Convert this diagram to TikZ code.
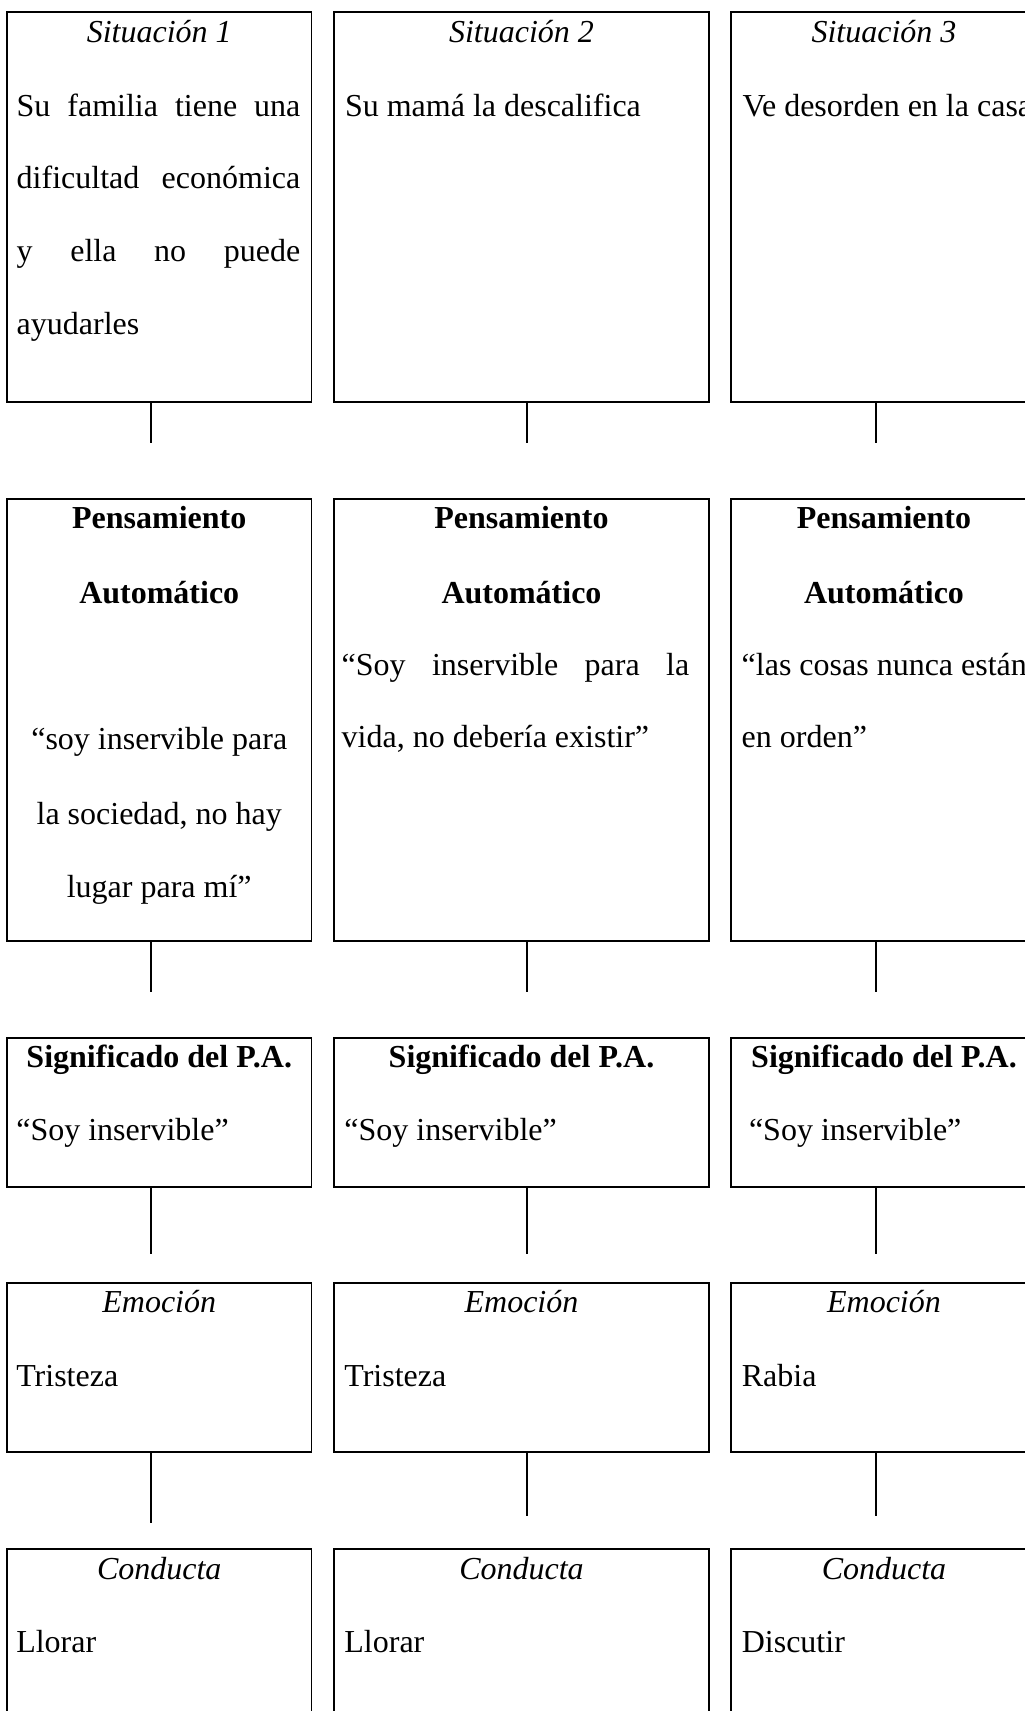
\documentclass[tikz,border=0pt]{standalone}
\usepackage{fontspec}
\setmainfont{Liberation Serif}
\begin{document}
\begin{tikzpicture}[x=0.75pt,y=-0.75pt,
  box/.style={draw, line width=1.4pt, rectangle, inner sep=0pt, outer sep=0pt},
  conn/.style={line width=0.8pt},
  txt/.style={inner sep=0pt, outer sep=0pt, font=\fontsize{24}{28}\selectfont},
  ttl/.style={txt, anchor=base, font=\fontsize{24}{28}\selectfont\itshape},
  hdr/.style={txt, anchor=base, font=\fontsize{24}{28}\selectfont\bfseries},
  lft/.style={txt, anchor=base west}]
\useasboundingbox (0,0) rectangle (1025,1711);
\fill[white] (0,0) rectangle (1025,1711);
\clip (0,0) rectangle (1025,1711);

% ---------- boxes ----------
% row 1 : Situacion
\node[box, minimum width=228.375pt, minimum height=292.05pt] (s1) at (159.25,207) {};
\node[box, minimum width=281.25pt,  minimum height=292.05pt] (s2) at (521.5,207) {};
\node[box, minimum width=229.5pt,   minimum height=292.05pt] (s3) at (884,207) {};
% row 2 : Pensamiento
\node[box, minimum width=228.375pt, minimum height=331.5pt] (p1) at (159.25,720) {};
\node[box, minimum width=281.25pt,  minimum height=331.5pt] (p2) at (521.5,720) {};
\node[box, minimum width=229.5pt,   minimum height=331.5pt] (p3) at (884,720) {};
% row 3 : Significado
\node[box, minimum width=228.375pt, minimum height=111.975pt] (g1) at (159.25,1112.35) {};
\node[box, minimum width=281.25pt,  minimum height=111.975pt] (g2) at (521.5,1112.35) {};
\node[box, minimum width=229.5pt,   minimum height=111.975pt] (g3) at (884,1112.35) {};
% row 4 : Emocion
\node[box, minimum width=228.375pt, minimum height=126.975pt] (e1) at (159.25,1367.35) {};
\node[box, minimum width=281.25pt,  minimum height=126.975pt] (e2) at (521.5,1367.35) {};
\node[box, minimum width=229.5pt,   minimum height=126.975pt] (e3) at (884,1367.35) {};
% row 5 : Conducta
\node[box, minimum width=228.375pt, minimum height=158.25pt] (c1) at (159.25,1654.5) {};
\node[box, minimum width=281.25pt,  minimum height=158.25pt] (c2) at (521.5,1654.5) {};
\node[box, minimum width=229.5pt,   minimum height=158.25pt] (c3) at (884,1654.5) {};

% ---------- connectors ----------
\coordinate (k1a) at (151,443);
\coordinate (k2a) at (527,443);
\coordinate (k3a) at (876,443);
\coordinate (k1b) at (151,991.7);
\coordinate (k2b) at (527,991.7);
\coordinate (k3b) at (876,991.7);
\coordinate (k1c) at (151,1254.3);
\coordinate (k2c) at (527,1254.3);
\coordinate (k3c) at (876,1254.3);
\coordinate (k1d) at (151,1523);
\coordinate (k2d) at (527,1515.7);
\coordinate (k3d) at (876,1515.7);
\draw[conn] (s1.south -| k1a) -- (k1a);
\draw[conn] (s2.south -| k2a) -- (k2a);
\draw[conn] (s3.south -| k3a) -- (k3a);
\draw[conn] (p1.south -| k1b) -- (k1b);
\draw[conn] (p2.south -| k2b) -- (k2b);
\draw[conn] (p3.south -| k3b) -- (k3b);
\draw[conn] (g1.south -| k1c) -- (k1c);
\draw[conn] (g2.south -| k2c) -- (k2c);
\draw[conn] (g3.south -| k3c) -- (k3c);
\draw[conn] (e1.south -| k1d) -- (k1d);
\draw[conn] (e2.south -| k2d) -- (k2d);
\draw[conn] (e3.south -| k3d) -- (k3d);

% ---------- texts row 1 ----------
\node[ttl] (s1t) at (159.25,42) {Situación 1};
\node[ttl] (s2t) at (521.5,42) {Situación 2};
\node[ttl] (s3t) at (884,42) {Situación 3};
\node[lft] (s1a) at (16.7,116) {\makebox[212.7pt][s]{Su familia tiene una}};
\node[lft] (s1b) at (16.7,188.7) {\makebox[212.7pt][s]{dificultad económica}};
\node[lft] (s1c) at (16.7,261.4) {\makebox[212.7pt][s]{y ella no puede}};
\node[lft] (s1d) at (16.7,334) {ayudarles};
\node[lft] (s2a) at (345,116) {Su mamá la descalifica};
\node[lft] (s3a) at (742.5,116) {Ve desorden en la casa};

% ---------- texts row 2 ----------
\node[hdr] (p1h) at (159.25,528.6) {Pensamiento};
\node[hdr] (p1i) at (159.25,603) {Automático};
\node[txt, anchor=base] (p1a) at (159.25,749) {“soy inservible para};
\node[txt, anchor=base] (p1b) at (159.25,824) {la sociedad, no hay};
\node[txt, anchor=base] (p1c) at (159.25,897) {lugar para mí”};
\node[hdr] (p2h) at (521.5,528.6) {Pensamiento};
\node[hdr] (p2i) at (521.5,603) {Automático};
\node[lft] (p2a) at (341.7,675.7) {\makebox[260.7pt][s]{“Soy inservible para la}};
\node[lft] (p2b) at (341.7,747) {vida, no debería existir”};
\node[hdr] (p3h) at (884,528.6) {Pensamiento};
\node[hdr] (p3i) at (884,603) {Automático};
\node[lft] (p3a) at (741.7,675.7) {“las cosas nunca están};
\node[lft] (p3b) at (741.7,747) {en orden”};

% ---------- texts row 3 ----------
\node[hdr] (g1h) at (159.25,1067) {Significado del P.A.};
\node[hdr] (g2h) at (521.5,1067) {Significado del P.A.};
\node[hdr] (g3h) at (884,1067) {Significado del P.A.};
\node[lft] (g1a) at (16.3,1140.7) {“Soy inservible”};
\node[lft] (g2a) at (344.4,1140.7) {“Soy inservible”};
\node[lft] (g3a) at (749,1140.7) {“Soy inservible”};

% ---------- texts row 4 ----------
\node[ttl] (e1t) at (159.25,1312.3) {Emoción};
\node[ttl] (e2t) at (521.5,1312.3) {Emoción};
\node[ttl] (e3t) at (884,1312.3) {Emoción};
\node[lft] (e1a) at (16.3,1386) {Tristeza};
\node[lft] (e2a) at (344.4,1386) {Tristeza};
\node[lft] (e3a) at (741.8,1386) {Rabia};

% ---------- texts row 5 ----------
\node[ttl] (c1t) at (159.25,1579) {Conducta};
\node[ttl] (c2t) at (521.5,1579) {Conducta};
\node[ttl] (c3t) at (884,1579) {Conducta};
\node[lft] (c1a) at (16.3,1652.3) {Llorar};
\node[lft] (c2a) at (344.4,1652.3) {Llorar};
\node[lft] (c3a) at (741.8,1652.3) {Discutir};
\end{tikzpicture}
\end{document}
